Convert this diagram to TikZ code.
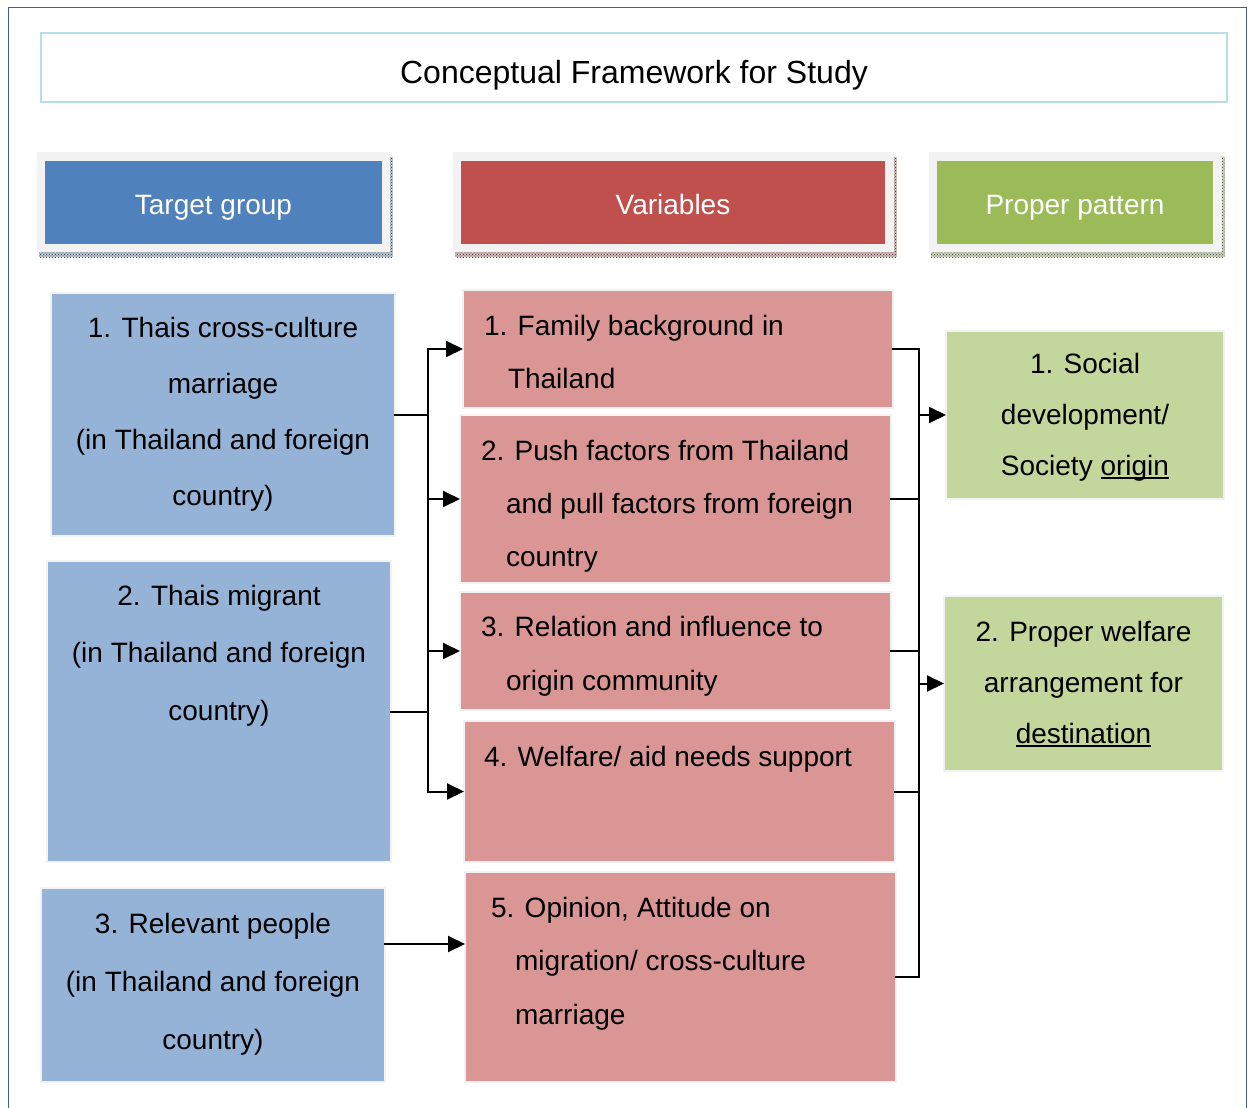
\documentclass[tikz,border=0pt]{standalone}
\usepackage{fontspec}
\setmainfont{Liberation Sans}
\usetikzlibrary{arrows.meta,patterns}
\definecolor{frameblue}{HTML}{3F5F8C}
\definecolor{titleblue}{HTML}{B7DDE8}
\definecolor{hblue}{HTML}{4F81BD}
\definecolor{hred}{HTML}{C0504D}
\definecolor{hgreen}{HTML}{9BBB59}
\definecolor{cblue}{HTML}{95B3D7}
\definecolor{cred}{HTML}{D99694}
\definecolor{cgreen}{HTML}{C3D69B}
\definecolor{hframe}{HTML}{F2F2F2}
\newcommand\myul[1]{\setbox0\hbox{#1}\rlap{\rule[-3.5pt]{\wd0}{1.8pt}}\box0}
\tikzset{
  box/.style={rectangle, anchor=north west, inner sep=0pt, outer sep=0pt, draw=hframe, line width=1.5pt},
  hout/.style={rectangle, anchor=north west, inner sep=0pt, outer sep=0pt, fill=hframe},
  hin/.style={rectangle, anchor=north west, inner sep=0pt, outer sep=0pt, text=white,
     font=\fontsize{28}{34}\selectfont, text height=30pt, text depth=6pt, minimum height=83pt},
  txt/.style={inner sep=0pt, outer sep=0pt},
  con/.style={line width=2pt, line cap=rect},
  arr/.style={line width=2pt, line cap=rect, -{Triangle[length=17pt,width=16pt]}},
  shade1/.style={fill=#1!35!gray!45},
  shade2/.style={pattern=crosshatch dots, pattern color=#1!40!black},
}
\begin{document}
\begin{tikzpicture}[x=1pt,y=-1pt]
\useasboundingbox (0,0) rectangle (1253,1108);
\fill[white] (0,0) rectangle (1253,1108);
% outer frame
\draw[frameblue, line width=1.5pt] (8.5,1110) -- (8.5,7.3) -- (1246.5,7.3) -- (1246.5,1110);
% title
\node[draw=titleblue, line width=2pt, anchor=north west, inner sep=0pt, minimum width=1186pt, minimum height=69pt,
  font=\fontsize{32}{38}\selectfont, text height=37pt, text depth=6pt] (T) at (40,32) {Conceptual Framework for Study};
% header shadows
\fill[shade1=hblue] (39,157) rectangle (392.5,257);
\fill[shade2=hblue] (39,157) rectangle (392.5,257);
\fill[shade1=hred] (455,157) rectangle (896.5,257);
\fill[shade2=hred] (455,157) rectangle (896.5,257);
\fill[shade1=hgreen] (931,157) rectangle (1224.5,257);
\fill[shade2=hgreen] (931,157) rectangle (1224.5,257);
% headers
\node[hout, minimum width=353pt, minimum height=100pt] (H1o) at (37,152) {};
\node[hout, minimum width=441pt, minimum height=100pt] (H2o) at (453,152) {};
\node[hout, minimum width=293pt, minimum height=100pt] (H3o) at (929,152) {};
\node[hin, fill=hblue, minimum width=337pt] (H1) at (45,160.7) {Target group};
\node[hin, fill=hred, minimum width=424pt] (H2) at (461,160.7) {Variables};
\node[hin, fill=hgreen, minimum width=276pt] (H3) at (937,160.7) {Proper pattern};
% content boxes
\node[box, fill=cblue, minimum width=344pt, minimum height=243pt] (L1) at (51,293) {};
\node[box, fill=cblue, minimum width=344pt, minimum height=301pt] (L2) at (47,561) {};
\node[box, fill=cblue, minimum width=344pt, minimum height=194pt] (L3) at (41,888) {};
\node[box, fill=cred, minimum width=430pt, minimum height=118pt] (M1) at (463,290) {};
\node[box, fill=cred, minimum width=431pt, minimum height=168pt] (M2) at (460,415) {};
\node[box, fill=cred, minimum width=431pt, minimum height=118pt] (M3) at (460,592) {};
\node[box, fill=cred, minimum width=431pt, minimum height=141pt] (M4) at (464,721) {};
\node[box, fill=cred, minimum width=431pt, minimum height=210pt] (M5) at (465,872) {};
\node[box, fill=cgreen, minimum width=278pt, minimum height=168pt] (R1) at (946,331) {};
\node[box, fill=cgreen, minimum width=279pt, minimum height=175pt] (R2) at (944,596) {};
% texts
\node[txt, anchor=north, align=center, font=\fontsize{28}{56}\selectfont] (L1t) at (223,313)
  {\rule{0pt}{24pt}1. Thais cross-culture\\ marriage\\ (in Thailand and foreign\\ country)};
\node[txt, anchor=north, align=center, font=\fontsize{28}{57.5}\selectfont] (L2t) at (219,581)
  {\rule{0pt}{24pt}2. Thais migrant\\ (in Thailand and foreign\\ country)};
\node[txt, anchor=north, align=center, font=\fontsize{28}{58}\selectfont] (L3t) at (213,909)
  {\rule{0pt}{24pt}3. Relevant people\\ (in Thailand and foreign\\ country)};
\node[txt, anchor=north west, align=left, font=\fontsize{28}{53}\selectfont] (M1t) at (484,311)
  {\rule{0pt}{24pt}1. Family background in\\ \hspace*{24pt}Thailand};
\node[txt, anchor=north west, align=left, font=\fontsize{28}{53}\selectfont] (M2t) at (481,436)
  {\rule{0pt}{24pt}2. Push factors from Thailand\\ \hspace*{25pt}and pull factors from foreign\\ \hspace*{25pt}country};
\node[txt, anchor=north west, align=left, font=\fontsize{28}{54}\selectfont] (M3t) at (481,612)
  {\rule{0pt}{24pt}3. Relation and influence to\\ \hspace*{25pt}origin community};
\node[txt, anchor=north west, align=left, font=\fontsize{28}{53}\selectfont] (M4t) at (484,742)
  {\rule{0pt}{24pt}4. Welfare/ aid needs support};
\node[txt, anchor=north west, align=left, font=\fontsize{28}{53.5}\selectfont] (M5t) at (491,893)
  {\rule{0pt}{24pt}5. Opinion, Attitude on\\ \hspace*{24pt}migration/ cross-culture\\ \hspace*{24pt}marriage};
\node[txt, anchor=north, align=center, font=\fontsize{28}{51}\selectfont] (R1t) at (1085,349)
  {\rule{0pt}{24pt}1. Social\\ development/\\ Society \myul{origin}};
\node[txt, anchor=north, align=center, font=\fontsize{28}{51}\selectfont] (R2t) at (1083.5,617)
  {\rule{0pt}{24pt}2. Proper welfare\\ arrangement for\\ \myul{destination}};
% connectors left
\coordinate (lx) at (428,0);
\draw[con] (L1.east) -- (L1.east -| lx);
\draw[con] (L2.east) -- (L2.east -| lx);
\draw[arr] (M4.west -| lx) -- (M1.west -| lx) -- (M1.west);
\draw[arr] (M2.west -| lx) -- (M2.west);
\draw[arr] (M3.west -| lx) -- (M3.west);
\draw[arr] (M4.west -| lx) -- (M4.west);
\coordinate (l3a) at ([yshift=41pt]L3.east);
\draw[arr] (l3a) -- (l3a -| M5.west);
% connectors right
\coordinate (rx) at (919,0);
\draw[con] (M1.east) -- (M1.east -| rx) -- (M5.east -| rx) -- (M5.east);
\draw[con] (M2.east) -- (M2.east -| rx);
\draw[con] (M3.east) -- (M3.east -| rx);
\draw[con] (M4.east) -- (M4.east -| rx);
\draw[arr] (R1.west -| rx) -- (R1.west);
\draw[arr] (R2.west -| rx) -- (R2.west);
\end{tikzpicture}
\end{document}
